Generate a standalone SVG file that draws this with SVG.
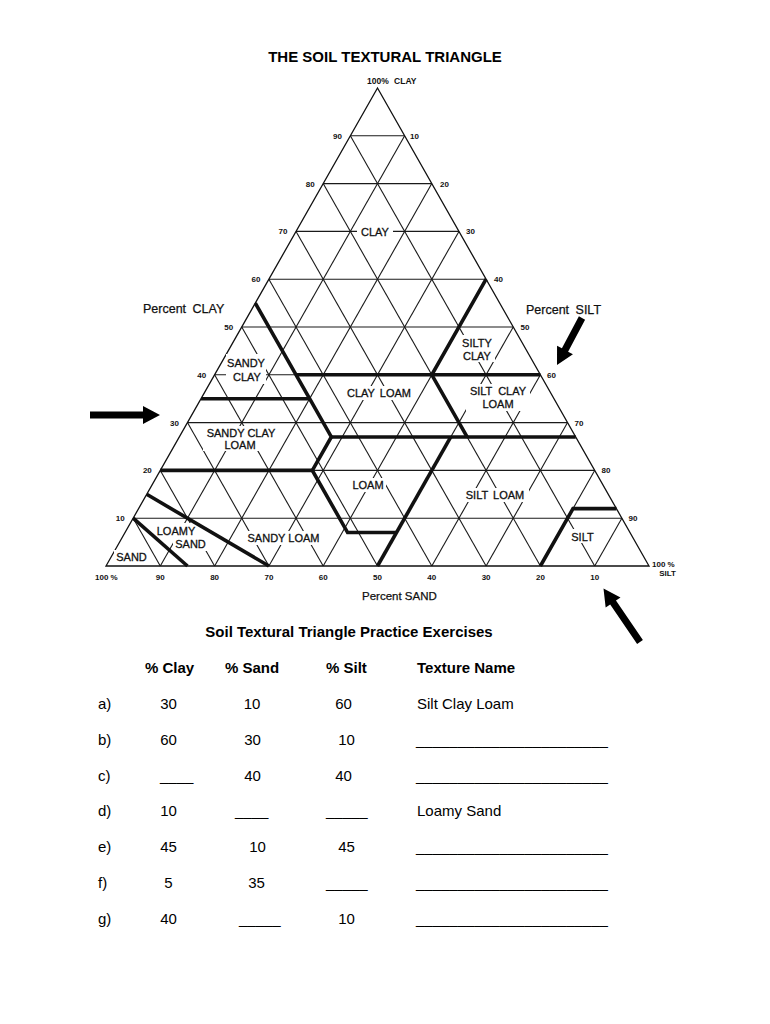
<svg xmlns="http://www.w3.org/2000/svg" width="770" height="1024" viewBox="0 0 770 1024">
<style>
.bg{fill:#fff}
.grid line{stroke:#1a1a1a;stroke-width:1.1}
.outline{fill:none;stroke:#111;stroke-width:1.3}
.thick line,.thick polyline{stroke:#111;stroke-width:3.6;fill:none;stroke-linejoin:miter;stroke-linecap:butt}
.mask{fill:#fff}
.tk{font-family:"Liberation Sans",Arial,sans-serif;font-size:8px;font-weight:bold;fill:#111}
.rl{font-family:"Liberation Sans",Arial,sans-serif;font-size:11px;fill:#111;stroke:#111;stroke-width:0.3;text-anchor:middle}
.ax{font-family:"Liberation Sans",Arial,sans-serif;font-size:12.5px;fill:#111;stroke:#111;stroke-width:0.25;word-spacing:3px}
.h1{font-family:"Liberation Sans",Arial,sans-serif;font-size:15px;font-weight:bold;fill:#000}
.tb{font-family:"Liberation Sans",Arial,sans-serif;font-size:15px;fill:#000}
.tbc{font-family:"Liberation Sans",Arial,sans-serif;font-size:15px;fill:#000;text-anchor:middle}
.arrow{fill:#000}
</style>
<rect class="bg" x="0" y="0" width="770" height="1024"/>
<text class="h1" x="385" y="62" text-anchor="middle">THE SOIL TEXTURAL TRIANGLE</text>

<g id="grid" class="grid">
<line x1="133.15" y1="518.2" x2="621.85" y2="518.2"/>
<line x1="160.3" y1="470.4" x2="594.7" y2="470.4"/>
<line x1="187.45" y1="422.6" x2="567.55" y2="422.6"/>
<line x1="214.6" y1="374.8" x2="540.4" y2="374.8"/>
<line x1="241.75" y1="327" x2="513.25" y2="327"/>
<line x1="268.9" y1="279.2" x2="486.1" y2="279.2"/>
<line x1="296.05" y1="231.4" x2="458.95" y2="231.4"/>
<line x1="323.2" y1="183.6" x2="431.8" y2="183.6"/>
<line x1="350.35" y1="135.8" x2="404.65" y2="135.8"/>
<line x1="160.3" y1="566" x2="133.15" y2="518.2"/>
<line x1="214.6" y1="566" x2="160.3" y2="470.4"/>
<line x1="268.9" y1="566" x2="187.45" y2="422.6"/>
<line x1="323.2" y1="566" x2="214.6" y2="374.8"/>
<line x1="377.5" y1="566" x2="241.75" y2="327"/>
<line x1="431.8" y1="566" x2="268.9" y2="279.2"/>
<line x1="486.1" y1="566" x2="296.05" y2="231.4"/>
<line x1="540.4" y1="566" x2="323.2" y2="183.6"/>
<line x1="594.7" y1="566" x2="350.35" y2="135.8"/>
<line x1="160.3" y1="566" x2="404.65" y2="135.8"/>
<line x1="214.6" y1="566" x2="431.8" y2="183.6"/>
<line x1="268.9" y1="566" x2="458.95" y2="231.4"/>
<line x1="323.2" y1="566" x2="486.1" y2="279.2"/>
<line x1="377.5" y1="566" x2="513.25" y2="327"/>
<line x1="431.8" y1="566" x2="540.4" y2="374.8"/>
<line x1="486.1" y1="566" x2="567.55" y2="422.6"/>
<line x1="540.4" y1="566" x2="594.7" y2="470.4"/>
<line x1="594.7" y1="566" x2="621.85" y2="518.2"/>
</g>
<polygon id="triangle" class="outline" points="106,566 649,566 377.5,88"/>

<g id="label-masks">
<rect class="mask" x="357" y="225" width="36" height="13"/>
<rect class="mask" x="226" y="354" width="40" height="30"/>
<rect class="mask" x="342" y="386" width="74" height="14"/>
<rect class="mask" x="459" y="335" width="36" height="27"/>
<rect class="mask" x="466" y="384" width="64" height="27"/>
<rect class="mask" x="203" y="426" width="76" height="25"/>
<rect class="mask" x="350" y="478" width="36" height="14"/>
<rect class="mask" x="461" y="488" width="68" height="14"/>
<rect class="mask" x="153" y="523" width="46" height="14"/>
<rect class="mask" x="173" y="537" width="35" height="14"/>
<rect class="mask" x="114" y="550" width="35" height="13"/>
<rect class="mask" x="244" y="531" width="79" height="14"/>
<rect class="mask" x="568" y="529" width="29" height="14"/>
</g>

<g id="boundaries" class="thick">
<polyline points="255.3,303.1 296.05,374.8 309.6,398.7 331.35,436.94 312.34,470.4 347.6,532.54 396.5,532.54"/>
<line x1="296.05" y1="374.8" x2="540.4" y2="374.8"/>
<line x1="201" y1="398.7" x2="309.6" y2="398.7"/>
<polyline points="486.1,279.2 431.8,374.8 467.1,436.94"/>
<line x1="331.35" y1="436.94" x2="575.7" y2="436.94"/>
<line x1="160.3" y1="470.4" x2="312.34" y2="470.4"/>
<line x1="377.5" y1="566" x2="450.8" y2="436.94"/>
<line x1="146.7" y1="494.3" x2="268.9" y2="566"/>
<line x1="133.15" y1="518.2" x2="187.45" y2="566"/>
<polyline points="540.4,566 573,508.64 616.4,508.64"/>
</g>

<g id="region-labels">
<text class="rl" x="375" y="235.5">CLAY</text>
<text class="rl" x="246" y="367">SANDY</text>
<text class="rl" x="247" y="381">CLAY</text>
<text class="rl" x="379" y="397" word-spacing="2">CLAY LOAM</text>
<text class="rl" x="477" y="346.5">SILTY</text>
<text class="rl" x="477" y="359.5">CLAY</text>
<text class="rl" x="498" y="395" word-spacing="3">SILT CLAY</text>
<text class="rl" x="498" y="408">LOAM</text>
<text class="rl" x="241" y="437">SANDY CLAY</text>
<text class="rl" x="240" y="448.5">LOAM</text>
<text class="rl" x="368" y="489">LOAM</text>
<text class="rl" x="495" y="499" word-spacing="2">SILT LOAM</text>
<text class="rl" x="176" y="534.5">LOAMY</text>
<text class="rl" x="190.5" y="548">SAND</text>
<text class="rl" x="131.5" y="561">SAND</text>
<text class="rl" x="283.5" y="542">SANDY LOAM</text>
<text class="rl" x="582.5" y="540.5">SILT</text>
</g>

<g id="tick-labels">
<text class="tk" x="367" y="84" style="font-size:8.5px;word-spacing:3px">100% CLAY</text>
<g text-anchor="end">
<text class="tk" x="342" y="138.8">90</text>
<text class="tk" x="314.7" y="186.6">80</text>
<text class="tk" x="287.5" y="234.4">70</text>
<text class="tk" x="260.4" y="282.2">60</text>
<text class="tk" x="233.2" y="330">50</text>
<text class="tk" x="206.1" y="377.8">40</text>
<text class="tk" x="179" y="425.6">30</text>
<text class="tk" x="151.8" y="473.4">20</text>
<text class="tk" x="124.6" y="521.2">10</text>
</g>
<text class="tk" x="410" y="138.8">10</text>
<text class="tk" x="440" y="186.6">20</text>
<text class="tk" x="466" y="234.4">30</text>
<text class="tk" x="494" y="282.2">40</text>
<text class="tk" x="520.5" y="330">50</text>
<text class="tk" x="547" y="377.8">60</text>
<text class="tk" x="574.5" y="425.6">70</text>
<text class="tk" x="601.5" y="473.4">80</text>
<text class="tk" x="628.5" y="521.2">90</text>
<g text-anchor="middle">
<text class="tk" x="160.3" y="580">90</text>
<text class="tk" x="214.6" y="580">80</text>
<text class="tk" x="268.9" y="580">70</text>
<text class="tk" x="323.2" y="580">60</text>
<text class="tk" x="377.5" y="580">50</text>
<text class="tk" x="431.8" y="580">40</text>
<text class="tk" x="486.1" y="580">30</text>
<text class="tk" x="540.4" y="580">20</text>
<text class="tk" x="594.7" y="580">10</text>
</g>
<text class="tk" x="95" y="580">100 %</text>
<text class="tk" x="652" y="567">100 %</text>
<text class="tk" x="676" y="576" text-anchor="end">SILT</text>
</g>

<g id="axis-titles">
<text class="ax" x="143" y="312.5">Percent CLAY</text>
<text class="ax" x="526" y="314">Percent SILT</text>
<text class="ax" x="362" y="600" style="font-size:11.5px;word-spacing:0">Percent SAND</text>
</g>

<g id="arrows">
<polygon class="arrow" points="90,418.5 143,418.5 143,424 160,415 143,406 143,411.5 90,411.5"/>
<polygon class="arrow" points="585.1,319.65 568.1,351.65 572.95,354.23 557,365 557.05,345.77 561.9,348.35 578.9,316.35"/>
<polygon class="arrow" points="642.89,640.03 615.97,600.57 620.51,597.47 603.5,588.5 605.65,607.61 610.19,604.51 637.11,643.97"/>
</g>

<g id="exercise-table">
<text class="h1" x="349" y="637" text-anchor="middle">Soil Textural Triangle Practice Exercises</text>
<text class="h1" x="145" y="672.5">% Clay</text>
<text class="h1" x="225" y="672.5">% Sand</text>
<text class="h1" x="326" y="672.5">% Silt</text>
<text class="h1" x="417" y="672.5">Texture Name</text>

<text class="tb" x="98" y="708.5">a)</text>
<text class="tbc" x="168.5" y="708.5">30</text>
<text class="tbc" x="252" y="708.5">10</text>
<text class="tbc" x="343.5" y="708.5">60</text>
<text class="tb" x="417" y="708.5">Silt Clay Loam</text>

<text class="tb" x="98" y="744.5">b)</text>
<text class="tbc" x="168.5" y="744.5">60</text>
<text class="tbc" x="252.5" y="744.5">30</text>
<text class="tbc" x="346.5" y="744.5">10</text>
<text class="tb" x="416" y="744.5">_______________________</text>

<text class="tb" x="98" y="780.5">c)</text>
<text class="tb" x="160" y="780.5">____</text>
<text class="tbc" x="252.5" y="780.5">40</text>
<text class="tbc" x="343.5" y="780.5">40</text>
<text class="tb" x="416" y="780.5">_______________________</text>

<text class="tb" x="98" y="815.5">d)</text>
<text class="tbc" x="168.5" y="815.5">10</text>
<text class="tb" x="235" y="815.5">____</text>
<text class="tb" x="326" y="815.5">_____</text>
<text class="tb" x="417" y="815.5">Loamy Sand</text>

<text class="tb" x="98" y="851.5">e)</text>
<text class="tbc" x="168.5" y="851.5">45</text>
<text class="tbc" x="257.5" y="851.5">10</text>
<text class="tbc" x="346.5" y="851.5">45</text>
<text class="tb" x="416" y="851.5">_______________________</text>

<text class="tb" x="98" y="887.5">f)</text>
<text class="tbc" x="168.5" y="887.5">5</text>
<text class="tbc" x="256.5" y="887.5">35</text>
<text class="tb" x="326" y="887.5">_____</text>
<text class="tb" x="416" y="887.5">_______________________</text>

<text class="tb" x="98" y="923.5">g)</text>
<text class="tbc" x="168.5" y="923.5">40</text>
<text class="tb" x="239" y="923.5">_____</text>
<text class="tbc" x="346.5" y="923.5">10</text>
<text class="tb" x="416" y="923.5">_______________________</text>
</g>
</svg>
